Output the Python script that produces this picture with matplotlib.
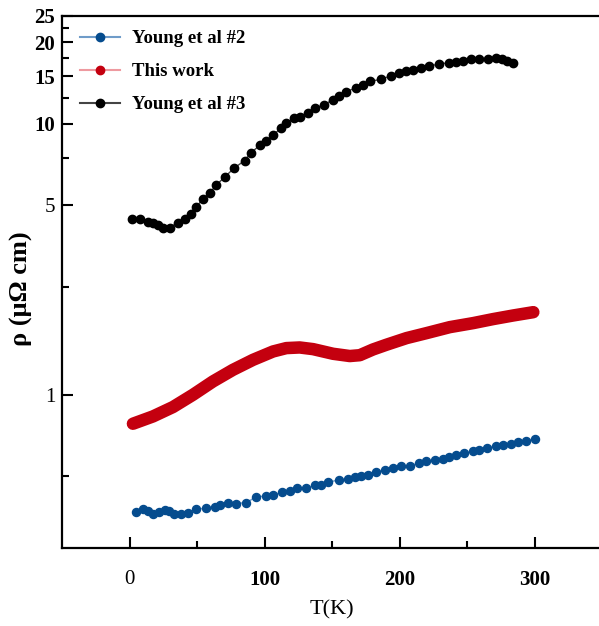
import matplotlib
matplotlib.use("Agg")
import matplotlib.pyplot as plt
from matplotlib.legend_handler import HandlerTuple
from matplotlib.lines import Line2D
from matplotlib.ticker import FixedLocator, NullFormatter

# Resistivity vs temperature
T_young2 = [4.4, 9.9, 13.6, 17.3, 21.7, 25.9, 29.1, 32.6, 38.3, 43.2, 49.4, 56.8, 63.0,
            67.2, 72.8, 78.5, 86.4, 93.3, 101.2, 106.2, 113.1, 119.0, 124.0, 130.9, 137.0,
            142.0, 146.9, 155.1, 161.7, 166.7, 171.6, 176.5, 182.2, 188.9, 194.6, 200.7,
            207.4, 214.3, 219.3, 225.9, 232.1, 236.5, 241.5, 247.4, 253.8, 258.7, 264.2,
            271.1, 276.5, 282.0, 287.6, 293.3, 300.0]
rho_young2 = [0.368, 0.378, 0.371, 0.363, 0.369, 0.376, 0.374, 0.363, 0.363, 0.366, 0.378,
              0.382, 0.387, 0.393, 0.398, 0.397, 0.400, 0.419, 0.424, 0.428, 0.436, 0.443,
              0.452, 0.452, 0.463, 0.466, 0.475, 0.486, 0.489, 0.497, 0.503, 0.507, 0.521,
              0.526, 0.537, 0.544, 0.547, 0.560, 0.568, 0.576, 0.581, 0.589, 0.597, 0.609,
              0.618, 0.623, 0.636, 0.645, 0.650, 0.660, 0.669, 0.677, 0.686]

T_this = [2.5, 17.3, 32.1, 46.9, 61.7, 76.5, 91.4, 106.2, 116.0, 125.9, 135.8, 150.6,
          163.0, 170.4, 180.2, 190.1, 205.0, 219.8, 237.0, 254.3, 269.1, 283.9, 298.8]
rho_this = [0.782, 0.832, 0.901, 1.000, 1.120, 1.236, 1.346, 1.445, 1.487, 1.495, 1.474,
            1.417, 1.390, 1.400, 1.470, 1.530, 1.619, 1.689, 1.777, 1.839, 1.903, 1.962, 2.018]

T_young3 = [1.7, 7.4, 13.6, 17.3, 21.0, 24.7, 29.6, 35.8, 40.7, 45.7, 49.4, 54.3, 59.3,
            64.2, 70.4, 77.3, 85.2, 89.6, 96.8, 101.2, 106.2, 112.3, 116.0, 121.7, 125.9,
            132.1, 137.0, 143.7, 150.6, 155.1, 160.5, 167.9, 172.8, 177.8, 186.4, 193.3,
            199.5, 204.4, 209.9, 216.0, 221.7, 229.1, 236.3, 241.5, 246.9, 252.4, 258.7,
            265.4, 271.1, 275.3, 279.0, 283.9]
rho_young3 = [4.46, 4.47, 4.36, 4.30, 4.24, 4.14, 4.14, 4.32, 4.45, 4.65, 4.95, 5.27, 5.55,
              5.95, 6.36, 6.86, 7.32, 7.80, 8.37, 8.61, 9.11, 9.64, 10.06, 10.49, 10.64,
              11.01, 11.43, 11.75, 12.27, 12.68, 13.15, 13.60, 13.93, 14.33, 14.62, 15.04,
              15.38, 15.69, 15.82, 16.05, 16.37, 16.60, 16.83, 16.98, 17.12, 17.33, 17.38,
              17.38, 17.52, 17.33, 17.12, 16.83]

labels = ["Young et al #2", "This work", "Young et al #3"]
colors = ["#054c8e", "#c4000f", "#000000"]
line_colors = ["#6f9cc9", "#ee9aa0", "#444444"]

x_major = [0, 100, 200, 300]
x_minor = [50, 150, 250]
y_major = [1, 5, 10, 15, 20, 25]
y_minor = [0.5, 2.5, 7.5, 12.5, 17.5, 22.5]

plt.rcParams["font.family"] = ["Liberation Serif", "DejaVu Serif"]

fig = plt.figure(figsize=(5.99, 6.26), dpi=100)
ax = fig.add_axes([62 / 599, 1 - 548 / 626, (602.5 - 62) / 599, (548 - 16) / 626])

# Young et al #2
ax.plot(T_young2, rho_young2, color=line_colors[0], lw=1.0, zorder=2)
ax.plot(T_young2, rho_young2, ls="none", marker="o", ms=5.8, color=colors[0], zorder=3)
# This work: dense data drawn as a thick band
ax.plot(T_this, rho_this, color=colors[1], lw=9, solid_capstyle="round",
        solid_joinstyle="round", zorder=3)
# Young et al #3
ax.plot(T_young3, rho_young3, color=line_colors[2], lw=1.0, zorder=2)
ax.plot(T_young3, rho_young3, ls="none", marker="o", ms=6.0, color=colors[2], zorder=3)

handles = []
for c, lc in zip(colors, line_colors):
    ln = Line2D([], [], color=lc, lw=1.5)
    mk = Line2D([], [], ls="none", marker="o", ms=6, color=c)
    handles.append((ln, mk))

ax.set_yscale("log")
ax.set_xlim(-50, 350)
ax.set_ylim(0.272, 25)

ax.xaxis.set_major_locator(FixedLocator(x_major))
ax.xaxis.set_minor_locator(FixedLocator(x_minor))
ax.yaxis.set_major_locator(FixedLocator(y_major))
ax.yaxis.set_minor_locator(FixedLocator(y_minor))
ax.yaxis.set_minor_formatter(NullFormatter())
ax.set_xticklabels([str(v) for v in x_major])
ax.set_yticklabels([str(v) for v in y_major])

ax.tick_params(which="major", direction="in", length=8, width=1.5)
ax.tick_params(which="minor", direction="in", length=5, width=1.5)
ax.tick_params(axis="x", which="both", top=False, pad=16, labelsize=15)
ax.tick_params(axis="y", which="both", right=False, pad=5, labelsize=15)

bold_vals = {"10", "15", "20", "25", "100", "200", "300"}
for t in ax.get_xticklabels() + ax.get_yticklabels():
    t.set_fontweight("bold" if t.get_text() in bold_vals else "normal")

for s in ["left", "bottom", "top"]:
    ax.spines[s].set_linewidth(1.6)
ax.spines["right"].set_visible(False)

ax.set_xlabel("T(K)", fontsize=16, labelpad=7)
ax.set_ylabel("ρ (μΩ cm)", fontsize=19, fontweight="bold")
ax.yaxis.set_label_coords(-0.054, 0.488)

ax.legend(handles, labels, handler_map={tuple: HandlerTuple(ndivide=1, pad=0)},
          loc="upper left", frameon=False, prop={"weight": "bold", "size": 13.5},
          handlelength=2.1, handletextpad=0.65, labelspacing=0.85,
          borderaxespad=0.35, bbox_to_anchor=(0.008, 1.0))

fig.savefig("out.png", dpi=100)
